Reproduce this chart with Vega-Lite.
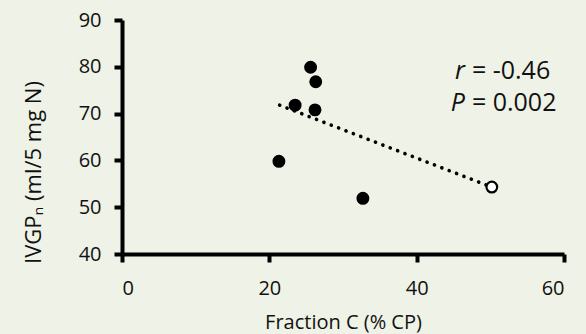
{
  "$schema": "https://vega.github.io/schema/vega-lite/v6.json",
  "width": 442,
  "height": 234,
  "autosize": {"type": "none"},
  "padding": {"left": 122, "top": 20, "right": 22, "bottom": 80},
  "background": "#eff2e6",
  "config": {
    "view": {"stroke": null},
    "font": "Open Sans",
    "axis": {
      "grid": false,
      "domainColor": "black",
      "domainWidth": 4,
      "tickColor": "black",
      "tickWidth": 4,
      "tickSize": 8,
      "labelFont": "Open Sans",
      "labelFontSize": 20,
      "labelColor": "#111111",
      "titleFont": "Open Sans",
      "titleFontSize": 20,
      "titleFontWeight": "normal",
      "titleColor": "#111111"
    }
  },
  "datasets": {
    "points": [
      {"x": 25.6, "y": 79.9, "group": "included"},
      {"x": 26.3, "y": 76.8, "group": "included"},
      {"x": 23.5, "y": 71.8, "group": "included"},
      {"x": 26.2, "y": 70.8, "group": "included"},
      {"x": 21.3, "y": 59.8, "group": "included"},
      {"x": 32.7, "y": 51.9, "group": "included"},
      {"x": 50.2, "y": 54.3, "group": "excluded"}
    ],
    "fit": [
      {"x": 21.4, "y": 71.8},
      {"x": 50.2, "y": 54.3}
    ],
    "notes": [
      {"x": 47.5, "y": 77.4, "sym": "r", "rest": "= -0.46"},
      {"x": 47.5, "y": 70.6, "sym": "P", "rest": "= 0.002"}
    ]
  },
  "layer": [
    {
      "data": {"name": "fit"},
      "mark": {"type": "line", "color": "black", "strokeWidth": 3.6, "strokeCap": "round", "strokeDash": [0.1, 7.8]},
      "encoding": {
        "x": {
          "field": "x", "type": "quantitative",
          "scale": {"domain": [0, 60], "nice": false, "zero": false},
          "axis": {"values": [0, 20, 40, 60], "title": "Fraction C (% CP)", "labelPadding": 16, "titleBaseline": "alphabetic", "titleY": 74, "titleX": 221, "titleAlign": "center"}
        },
        "y": {
          "field": "y", "type": "quantitative",
          "scale": {"domain": [40, 90], "nice": false, "zero": false},
          "axis": {"values": [40, 50, 60, 70, 80, 90], "title": "IVGPₙ (ml/5 mg N)", "titleFontSize": 22, "labelPadding": 13, "titleAngle": -90, "titleBaseline": "alphabetic", "titleAlign": "center", "titleX": -82, "titleY": 152}
        }
      }
    },
    {
      "data": {"name": "points"},
      "mark": {"type": "point", "shape": "circle", "size": 115, "stroke": "black", "strokeWidth": 2.2, "opacity": 1, "fillOpacity": 1},
      "encoding": {
        "x": {"field": "x", "type": "quantitative"},
        "y": {"field": "y", "type": "quantitative"},
        "fill": {"field": "group", "type": "nominal", "scale": {"domain": ["included", "excluded"], "range": ["black", "white"]}, "legend": null}
      }
    },
    {
      "data": {"name": "notes"},
      "mark": {"type": "text", "align": "left", "baseline": "alphabetic", "fontSize": 25, "font": "Open Sans", "color": "#111111"},
      "encoding": {
        "x": {"field": "x", "type": "quantitative"},
        "y": {"field": "y", "type": "quantitative"},
        "text": {"field": "rest"}
      }
    },
    {
      "data": {"name": "notes"},
      "mark": {"type": "text", "align": "right", "baseline": "alphabetic", "fontSize": 25, "font": "Open Sans", "fontStyle": "italic", "dx": -7, "color": "#111111"},
      "encoding": {
        "x": {"field": "x", "type": "quantitative"},
        "y": {"field": "y", "type": "quantitative"},
        "text": {"field": "sym"}
      }
    }
  ]
}
